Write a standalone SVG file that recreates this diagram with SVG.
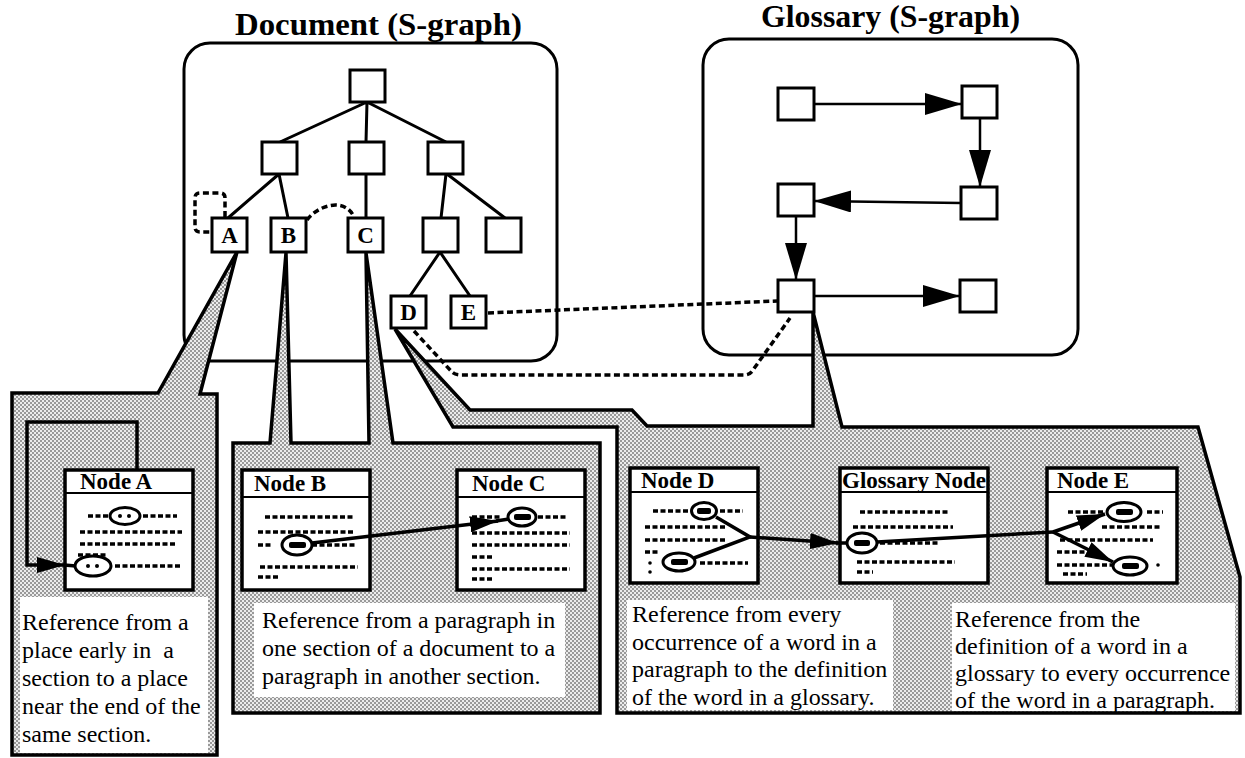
<svg xmlns="http://www.w3.org/2000/svg" width="1245" height="758" viewBox="0 0 1245 758">
<style>
.ttl{font-family:"Liberation Serif","Times New Roman",serif;font-weight:bold;font-size:32px;fill:#000}
.lbl{font-family:"Liberation Serif","Times New Roman",serif;font-weight:bold;font-size:23px;fill:#000;text-anchor:middle}
.wt{font-family:"Liberation Serif","Times New Roman",serif;font-weight:bold;font-size:23px;fill:#000}
.body{font-family:"Liberation Serif","Times New Roman",serif;font-size:24px;fill:#000}
.nd{fill:#fff;stroke:#000;stroke-width:3}
.frame{fill:#fff;stroke:#000;stroke-width:3}
.edge{stroke:#000;stroke-width:3;fill:none}
.garr{stroke:#000;stroke-width:2.5;fill:none;marker-end:url(#big)}
.dash{stroke:#000;stroke-width:3.5;fill:none;stroke-dasharray:6 3.5}
.panel{fill:url(#stip);stroke:#000;stroke-width:3.5;stroke-linejoin:miter}
.win{fill:#fff;stroke:#000;stroke-width:3.5}
.sep{stroke:#000;stroke-width:2}
.dl{stroke:#000;stroke-width:3.5;stroke-dasharray:5 2.5;fill:none}
.ell{fill:#fff;stroke:#000;stroke-width:3}
.bar{fill:#000}
.ref{stroke:#000;stroke-width:3.5;fill:none}
.refa{stroke:#000;stroke-width:3.5;fill:none;marker-end:url(#sm)}
</style>
<defs>
<pattern id="stip" width="4" height="4" patternUnits="userSpaceOnUse">
<rect width="4" height="4" fill="#ececec"/>
<rect width="2" height="2" fill="#999"/>
<rect x="2" y="2" width="2" height="2" fill="#999"/>
</pattern>
<marker id="big" markerUnits="userSpaceOnUse" markerWidth="37" markerHeight="22" refX="37" refY="11" orient="auto">
<path d="M0,0 L37,11 L0,22 Z" fill="#000"/>
</marker>
<marker id="sm" markerUnits="userSpaceOnUse" markerWidth="28" markerHeight="16" refX="28" refY="8" orient="auto">
<path d="M0,0 L28,8 L0,16 Z" fill="#000"/>
</marker>
</defs>

<rect width="1245" height="758" fill="#fff"/>

<!-- titles -->
<text class="ttl" x="235" y="35" textLength="287" lengthAdjust="spacingAndGlyphs">Document  (S-graph)</text>
<text class="ttl" x="761" y="27" textLength="259" lengthAdjust="spacingAndGlyphs">Glossary (S-graph)</text>

<!-- containers -->
<g id="document-sgraph">
<rect class="frame" x="184" y="43" width="373" height="318" rx="26" ry="26"/>
</g>
<g id="glossary-sgraph">
<rect class="frame" x="703" y="39" width="375" height="316" rx="26" ry="26"/>
</g>

<!-- connectors -->
<g id="connectors">
<path class="edge" d="M367,102 L280,142 M367,102 L366,142 M367,102 L446,142"/>
<path class="edge" d="M279,174 L228,218 M279,174 L288,218 M366,174 L366,218 M446,174 L441,218 M447,174 L505,218"/>
<path class="edge" d="M440,252 L410,296 M440,252 L470,296"/>
<path class="dash" d="M225,217 L225,198 Q225,193 220,193 L200,193 Q195,193 195,198 L195,227 Q195,232 200,232 L211,232"/>
<path class="dash" d="M307,220 C318,205 345,197 354,217"/>
<path class="dash" d="M488,313 L777,301"/>
<path class="dash" d="M414,331 L452,372 Q455,375 461,375 L744,375 Q750,375 753,370 L790,318"/>
<path class="garr" d="M814,104 L962,104"/>
<path class="garr" d="M980,118 L980,187"/>
<path class="garr" d="M961,203 L814,201"/>
<path class="garr" d="M796,216 L796,280"/>
<path class="garr" d="M814,296 L960,296"/>
</g>

<!-- document tree nodes -->
<g id="doc-root"><rect class="nd" x="350" y="70" width="35" height="32"/></g>
<g id="doc-sec1"><rect class="nd" x="262" y="142" width="35" height="32"/></g>
<g id="doc-sec2"><rect class="nd" x="349" y="142" width="35" height="32"/></g>
<g id="doc-sec3"><rect class="nd" x="428" y="142" width="35" height="32"/></g>
<g id="node-A"><rect class="nd" x="212" y="218" width="35" height="34"/><text class="lbl" x="229.5" y="243">A</text></g>
<g id="node-B"><rect class="nd" x="271" y="218" width="35" height="34"/><text class="lbl" x="288.5" y="243">B</text></g>
<g id="node-C"><rect class="nd" x="348" y="218" width="35" height="34"/><text class="lbl" x="365.5" y="243">C</text></g>
<g id="doc-sub"><rect class="nd" x="423" y="218" width="35" height="34"/></g>
<g id="doc-last"><rect class="nd" x="486" y="218" width="35" height="34"/></g>
<g id="node-D"><rect class="nd" x="391" y="296" width="35" height="32"/><text class="lbl" x="408.5" y="320">D</text></g>
<g id="node-E"><rect class="nd" x="451" y="296" width="35" height="32"/><text class="lbl" x="468.5" y="320">E</text></g>

<!-- glossary nodes -->
<g id="g1"><rect class="nd" x="778" y="88" width="36" height="32"/></g>
<g id="g2"><rect class="nd" x="962" y="86" width="35" height="32"/></g>
<g id="g3"><rect class="nd" x="961" y="187" width="36" height="32"/></g>
<g id="g4"><rect class="nd" x="778" y="184" width="36" height="32"/></g>
<g id="g5"><rect class="nd" x="778" y="280" width="36" height="32"/></g>
<g id="g6"><rect class="nd" x="960" y="280" width="36" height="32"/></g>

<!-- Panel 1: Node A -->
<g id="panel-A">
<path class="panel" d="M12,393 L158,393 L237,252 L200,394 L217,394 L217,755 L12,755 Z"/>
<rect x="20" y="597" width="188" height="156" fill="#fff"/>
<text class="body" x="22" y="630">Reference from a</text>
<text class="body" x="22" y="658" xml:space="preserve">place early in  a</text>
<text class="body" x="22" y="686">section to a place</text>
<text class="body" x="22" y="714">near the end of the</text>
<text class="body" x="22" y="742">same section.</text>
<g id="window-A">
<rect class="win" x="65" y="470" width="128" height="120"/>
<line class="sep" x1="65" y1="493" x2="193" y2="493"/>
<text class="wt" x="80" y="489">Node A</text>
<path class="dl" d="M88,516 H108 M143,516 H177 M80,532 H182 M80,544 H177 M78,555 H107 M115,566 H182"/>
<ellipse class="ell" cx="125" cy="516" rx="15" ry="8.5"/>
<circle cx="120" cy="516" r="2" fill="#000"/><circle cx="129" cy="516" r="2" fill="#000"/>
<ellipse class="ell" cx="93" cy="566" rx="18" ry="10"/>
<circle cx="88" cy="566" r="2" fill="#000"/><circle cx="97" cy="566" r="2" fill="#000"/>
</g>
<path class="refa" d="M137,470 L137,422 L27,422 L27,565 L65,565"/>
<line class="ref" x1="64" y1="565" x2="76" y2="566"/>
</g>

<!-- Panel 2: Nodes B and C -->
<g id="panel-BC">
<path class="panel" d="M233,443 L270,443 L286,253 L291,443 L369,443 L366,253 L393,443 L600,443 L600,713 L233,713 Z"/>
<rect x="254" y="603" width="311" height="94" fill="#fff"/>
<text class="body" x="262" y="628">Reference from a paragraph in</text>
<text class="body" x="262" y="656">one section of a document to a</text>
<text class="body" x="262" y="684">paragraph in another section.</text>
<g id="window-B">
<rect class="win" x="242" y="470" width="128" height="120"/>
<line class="sep" x1="242" y1="497" x2="370" y2="497"/>
<text class="wt" x="254" y="491">Node B</text>
<path class="dl" d="M265,517 H353 M258,532 H355 M258,545 H273 M312,545 H355 M260,567 H358 M258,577 H280"/>
<ellipse class="ell" cx="297" cy="545" rx="15" ry="10"/>
<rect class="bar" x="289" y="542" width="17" height="6" rx="2"/>
</g>
<g id="window-C">
<rect class="win" x="457" y="470" width="128" height="120"/>
<line class="sep" x1="457" y1="497" x2="585" y2="497"/>
<text class="wt" x="472" y="491">Node C</text>
<path class="dl" d="M472,517 H500 M538,517 H568 M472,533 H570 M472,545 H570 M472,557 H493 M472,569 H570 M472,579 H493"/>
<ellipse class="ell" cx="522" cy="517" rx="14" ry="9"/>
<rect class="bar" x="514" y="514" width="17" height="6" rx="2"/>
</g>
<path class="refa" d="M312,543 L498,521"/>
<line class="ref" x1="496" y1="521" x2="509" y2="519"/>
</g>

<!-- Panel 3: Node D, Glossary Node, Node E -->
<g id="panel-DGE">
<path class="panel" d="M395,329 L470,410 L632,410 L647,426 L813,426 L813,312 L842,427 L1198,427 L1240,577 L1240,713 L617,713 L617,427 L453,427 Z"/>
<rect x="627" y="600" width="266" height="110" fill="#fff"/>
<rect x="952" y="603" width="283" height="108" fill="#fff"/>
<text class="body" x="632" y="622">Reference from every</text>
<text class="body" x="632" y="650">occurrence of a word in a</text>
<text class="body" x="632" y="677">paragraph to the definition</text>
<text class="body" x="632" y="705">of the word in a glossary.</text>
<text class="body" x="955" y="627">Reference from the</text>
<text class="body" x="955" y="654">definition of a word in a</text>
<text class="body" x="955" y="681">glossary to every occurrence</text>
<text class="body" x="955" y="708">of the word in a paragraph.</text>
<g id="window-D">
<rect class="win" x="630" y="468" width="128" height="115"/>
<line class="sep" x1="630" y1="492" x2="758" y2="492"/>
<text class="wt" x="641" y="488">Node D</text>
<path class="dl" d="M653,511 H690 M720,511 H743 M645,527 H727 M645,540 H727 M645,552 H658 M700,563 H748"/>
<circle cx="650" cy="563" r="1.8" fill="#000"/><circle cx="650" cy="572" r="1.8" fill="#000"/>
<ellipse class="ell" cx="704" cy="511" rx="12.5" ry="8.5"/>
<rect class="bar" x="697" y="508" width="14" height="6" rx="2"/>
<ellipse class="ell" cx="679" cy="562" rx="16" ry="9"/>
<rect class="bar" x="671" y="559" width="17" height="6" rx="2"/>
<path class="ref" d="M716,517 L750,537 L694,558"/>
</g>
<g id="window-glossary">
<rect class="win" x="840" y="468" width="148" height="115"/>
<line class="sep" x1="840" y1="492" x2="988" y2="492"/>
<text class="wt" x="842" y="488" textLength="144" lengthAdjust="spacingAndGlyphs">Glossary Node</text>
<path class="dl" d="M860,512 H950 M853,527 H953 M880,543 H940 M857,562 H955 M857,572 H873"/>
<ellipse class="ell" cx="862" cy="543" rx="15" ry="10"/>
<rect class="bar" x="854" y="540" width="16" height="6" rx="2"/>
</g>
<g id="window-E">
<rect class="win" x="1047" y="468" width="130" height="115"/>
<line class="sep" x1="1047" y1="492" x2="1177" y2="492"/>
<text class="wt" x="1057" y="488">Node E</text>
<path class="dl" d="M1068,512 H1103 M1147,512 H1163 M1102,527 H1160 M1060,540 H1153 M1057,552 H1087 M1057,565 H1113 M1063,574 H1087"/>
<circle cx="1158" cy="565" r="1.8" fill="#000"/>
<ellipse class="ell" cx="1124" cy="512" rx="17" ry="9.5"/>
<rect class="bar" x="1116" y="509" width="17" height="6" rx="2"/>
<ellipse class="ell" cx="1130" cy="566" rx="17" ry="9"/>
<rect class="bar" x="1122" y="563" width="17" height="6" rx="2"/>
</g>
<path class="refa" d="M750,537 L838,543"/>
<line class="ref" x1="836" y1="543" x2="848" y2="543"/>
<path class="ref" d="M877,542 L1053,532"/>
<path class="refa" d="M1053,532 L1105,514"/>
<path class="refa" d="M1053,532 L1113,562"/>
</g>
</svg>
